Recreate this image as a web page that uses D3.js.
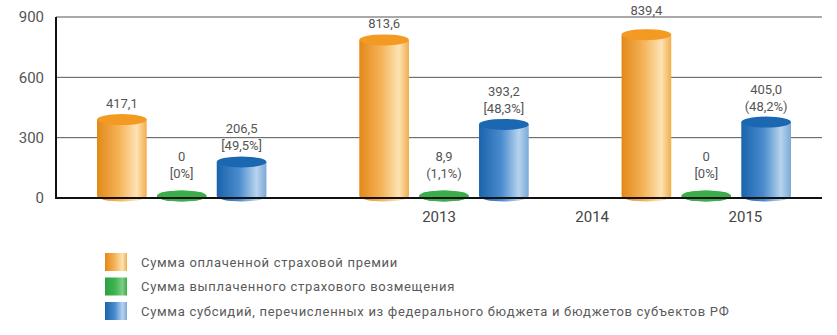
<!DOCTYPE html>
<html lang="ru">
<head>
  <meta charset="UTF-8">
  <title>Страхование</title>
  <script src="https://d3js.org/d3.v7.min.js"></script>
  <style>
    body { margin: 0; padding: 0; background: #fff; }
    svg text { font-family: Roboto, "Open Sans", sans-serif; fill: #555; }
  </style>
</head>
<body>
  <svg id="chart" width="837" height="335"></svg>
  <script>
    // data
    const groups = ["g1", "g2", "g3"];
    const seriesKeys = ["premium", "payout", "subsidy"];
    const premium = [417.1, 813.6, 839.4];
    const payout = [0, 8.9, 0];
    const payoutPct = ["[0%]", "(1,1%)", "[0%]"];
    const subsidy = [206.5, 393.2, 405.0];
    const subsidyPct = ["[49,5%]", "[48,3%]", "(48,2%)"];
    const yTicks = [0, 300, 600, 900];
    const yearTicks = ["", " ", "2013", "2014", "2015"];
    const legendLabels = [
      "Сумма оплаченной страховой премии",
      "Сумма выплаченного страхового возмещения",
      "Сумма субсидий, перечисленных из федерального бюджета и бюджетов субъектов РФ"
    ];

    const colors = {
      premium: { stops: ["#e38818", "#f5b45a", "#fde3b4", "#f2ac4c"], top: "#f29a22" },
      payout: { stops: ["#2e9e40", "#3fb450", "#7ccf86", "#3aaa48"], top: "#3bae4a" },
      subsidy: { stops: ["#1a63ab", "#4a8cce", "#b7d3ee", "#7ba9d8"], top: "#1c67b2" }
    };

    const svg = d3.select("#chart");
    const plotLeft = 56, plotRight = 822, plotTop = 17, plotBottom = 198;

    const y = d3.scaleLinear().domain([0, 900]).range([plotBottom, plotTop]);
    const x = d3.scaleBand().domain(groups).range([97, 791]).paddingInner(0.354).paddingOuter(0);
    const xs = d3.scaleBand().domain(seriesKeys).range([0, x.bandwidth()]).paddingInner(0.17);
    const yearScale = d3.scaleBand().domain(yearTicks).range([plotLeft, plotRight]);

    const fmt = v => v === 0 ? "0" : d3.format(".1f")(v).replace(".", ",");

    // gradients
    const defs = svg.append("defs");
    seriesKeys.forEach(k => {
      const g = defs.append("linearGradient").attr("id", "grad-" + k)
        .attr("x1", "0%").attr("x2", "100%").attr("y1", "0%").attr("y2", "0%");
      [0, 0.45, 0.8, 1].forEach((o, i) => {
        g.append("stop").attr("offset", o).attr("stop-color", colors[k].stops[i]);
      });
    });

    // gridlines
    svg.append("g").selectAll("line")
      .data(yTicks.filter(d => d > 0))
      .join("line")
      .attr("x1", plotLeft).attr("x2", plotRight)
      .attr("y1", d => y(d)).attr("y2", d => y(d))
      .attr("stroke", "#555").attr("stroke-width", 1);

    // y labels
    svg.append("g").selectAll("text")
      .data(yTicks)
      .join("text")
      .attr("x", 44).attr("y", d => y(d))
      .attr("dy", "0.35em")
      .attr("text-anchor", "end")
      .style("font-size", "15px")
      .text(d => d);

    // bars as cylinders
    const rows = [];
    groups.forEach((g, i) => {
      rows.push({ g, key: "premium", v: premium[i], label: [fmt(premium[i])] });
      rows.push({ g, key: "payout", v: payout[i], label: [fmt(payout[i]), payoutPct[i]] });
      rows.push({ g, key: "subsidy", v: subsidy[i], label: [fmt(subsidy[i]), subsidyPct[i]] });
    });

    const ry = 5.5;
    const baseY = y(0) - 2;

    const bars = svg.append("g").selectAll("g")
      .data(rows)
      .join("g")
      .attr("transform", d => `translate(${x(d.g) + xs(d.key)},0)`);

    bars.each(function (d) {
      const gsel = d3.select(this);
      const w = xs.bandwidth();
      const rx = w / 2;
      const cy = Math.min(y(d.v) + ry, baseY);
      if (cy < baseY) {
        gsel.append("path")
          .attr("d", `M0,${cy} L0,${baseY} A${rx},${ry} 0 0 0 ${w},${baseY} L${w},${cy} Z`)
          .attr("fill", `url(#grad-${d.key})`);
      } else {
        gsel.append("ellipse")
          .attr("cx", rx).attr("cy", baseY).attr("rx", rx).attr("ry", ry)
          .attr("fill", `url(#grad-${d.key})`);
      }
      gsel.append("ellipse")
        .attr("cx", rx).attr("cy", cy).attr("rx", rx).attr("ry", ry)
        .attr("fill", colors[d.key].top);

      // labels; lift above the top gridline if they would cross it
      const n = d.label.length;
      let lastBase = d.key === "payout" ? cy - 18 : cy - ry - 6;
      if (lastBase < y(900) + 10 && lastBase > y(900) - 2) lastBase = y(900) - 2;
      d.label.forEach((t, j) => {
        gsel.append("text")
          .attr("x", rx)
          .attr("y", lastBase - (n - 1 - j) * 17)
          .attr("text-anchor", "middle")
          .style("font-size", "13px")
          .text(t);
      });
    });

    // axis lines
    svg.append("line")
      .attr("x1", plotLeft).attr("x2", plotRight).attr("y1", y(0)).attr("y2", y(0))
      .attr("stroke", "#111").attr("stroke-width", 2);
    svg.append("line")
      .attr("x1", plotLeft).attr("x2", plotLeft).attr("y1", y(900)).attr("y2", y(0) + 1)
      .attr("stroke", "#111").attr("stroke-width", 2);

    // year labels
    svg.append("g").selectAll("text")
      .data(yearTicks.filter(d => d.trim() !== ""))
      .join("text")
      .attr("x", d => yearScale(d) + yearScale.bandwidth() / 2)
      .attr("y", 222)
      .attr("text-anchor", "middle")
      .style("font-size", "15px")
      .style("fill", "#444")
      .text(d => d);

    // legend
    const legend = svg.append("g").attr("transform", "translate(105,253)");
    const li = legend.selectAll("g")
      .data(seriesKeys)
      .join("g")
      .attr("transform", (d, i) => `translate(0,${i * 24.5})`);
    li.append("rect")
      .attr("width", 22).attr("height", 18)
      .attr("fill", d => `url(#grad-${d})`);
    li.append("text")
      .attr("x", 36).attr("y", 9).attr("dy", "0.35em")
      .style("font-size", "13px")
      .style("letter-spacing", "0.7px")
      .style("fill", "#5a5a5a")
      .text((d, i) => legendLabels[i]);
  </script>
</body>
</html>
